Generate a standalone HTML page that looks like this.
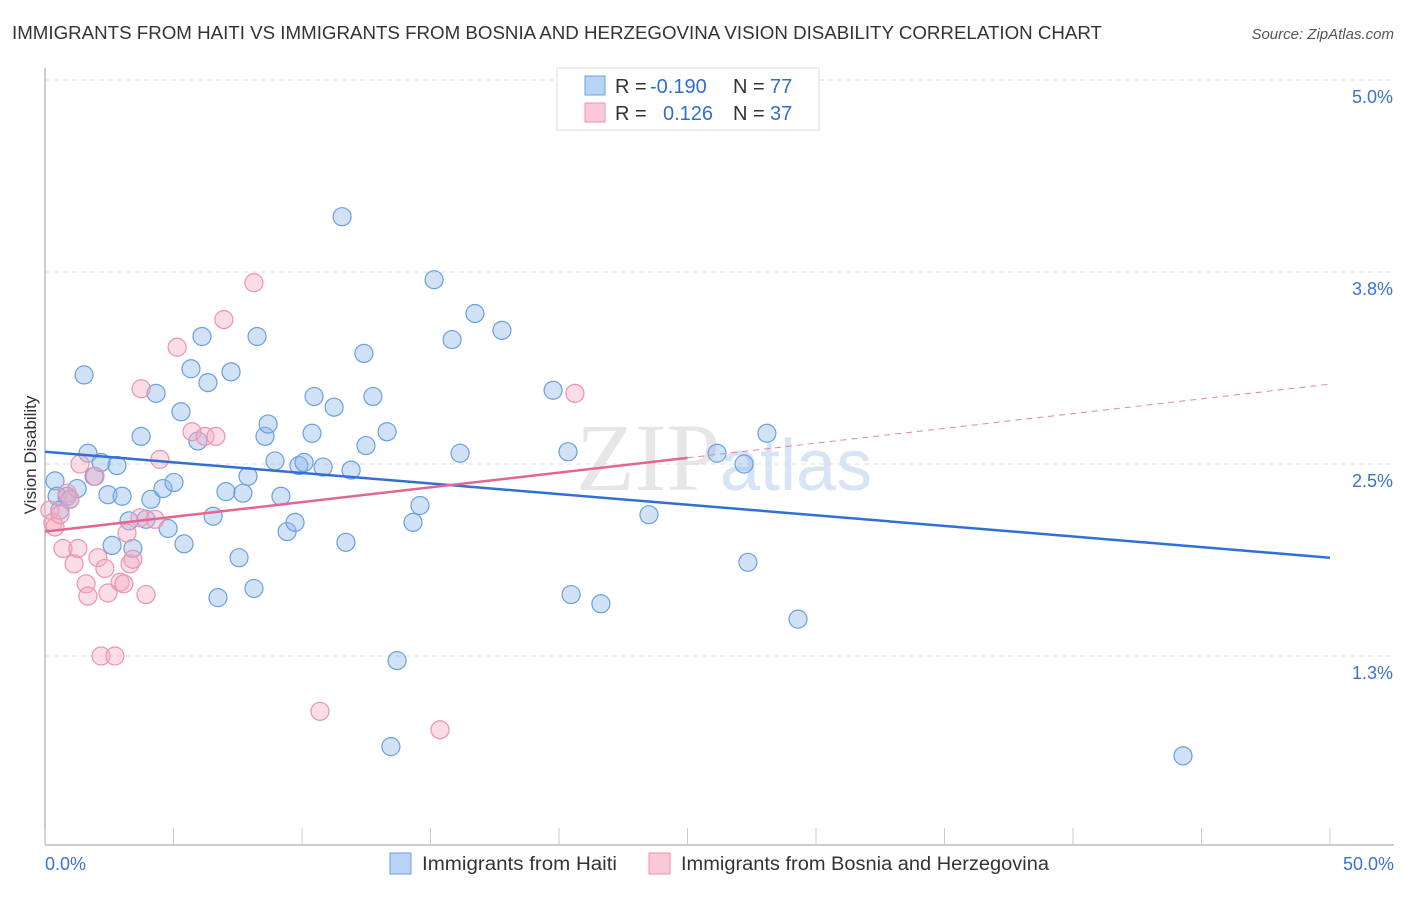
<!DOCTYPE html>
<html><head><meta charset="utf-8"><style>
body{margin:0;background:#fff;font-family:"Liberation Sans",sans-serif;}
</style></head><body>
<svg id="c" width="1406" height="892" xmlns="http://www.w3.org/2000/svg">
<text x="12" y="39" font-size="18" fill="#333" textLength="1090" lengthAdjust="spacingAndGlyphs">IMMIGRANTS FROM HAITI VS IMMIGRANTS FROM BOSNIA AND HERZEGOVINA VISION DISABILITY CORRELATION CHART</text>
<text x="1394" y="39" font-size="15" fill="#555" font-style="italic" text-anchor="end">Source: ZipAtlas.com</text>
<text x="36" y="455" font-size="17" fill="#333" transform="rotate(-90 36 455)" text-anchor="middle">Vision Disability</text>
<text x="720" y="490" font-size="96" fill="#e6e6e6" text-anchor="end" font-family="Liberation Serif,serif">ZIP</text>
<text x="720" y="490" font-size="72" fill="#d6e4f5">atlas</text>
<g id="grid"></g><g id="axes"></g><g id="pts"></g><g id="trend"></g>
<g>
<rect x="557" y="68" width="262" height="62" fill="#fff" stroke="#ddd"/>
<rect x="585" y="76" width="20" height="19" fill="#b9d3f5" stroke="#6a9fe0"/>
<rect x="585" y="103" width="20" height="19" fill="#fbc9d6" stroke="#e991ab"/>
<text x="615" y="93" font-size="20" fill="#333">R = <tspan x="650" fill="#2f6fd0">-0.190</tspan><tspan x="733">N = </tspan><tspan x="770" fill="#2f6fd0">77</tspan></text>
<text x="615" y="120" font-size="20" fill="#333">R = <tspan x="663" fill="#2f6fd0">0.126</tspan><tspan x="733">N = </tspan><tspan x="770" fill="#2f6fd0">37</tspan></text>
</g>
<g>
<rect x="390" y="853" width="21" height="21" fill="#b9d3f5" stroke="#6a9fe0"/>
<text x="422" y="870" font-size="19" fill="#333" textLength="195" lengthAdjust="spacingAndGlyphs">Immigrants from Haiti</text>
<rect x="649" y="853" width="21" height="21" fill="#fbc9d6" stroke="#e991ab"/>
<text x="681" y="870" font-size="19" fill="#333" textLength="368" lengthAdjust="spacingAndGlyphs">Immigrants from Bosnia and Herzegovina</text>
</g>
</svg>
<script>
const haitiX=[.39,.47,.58,.86,.97,1.25,1.52,1.67,1.91,2.18,2.45,2.61,2.80,3.00,3.27,3.42,3.74,3.93,4.12,4.32,4.59,4.79,5.02,5.29,5.41,5.68,5.95,6.11,6.34,6.54,6.73,7.04,7.24,7.55,7.70,7.90,8.13,8.25,8.56,8.68,8.95,9.18,9.42,9.73,9.88,10.08,10.47,10.39,10.82,11.25,11.56,11.71,11.91,12.41,12.49,12.76,13.31,13.46,13.70,14.32,14.59,15.14,15.84,16.15,16.73,17.78,19.77,20.35,20.47,21.63,23.50,26.15,27.20,27.35,28.09,29.30,44.28];
const haitiY=[2.39,2.29,2.20,2.29,2.27,2.34,3.08,2.57,2.42,2.51,2.30,1.97,2.49,2.29,2.13,1.95,2.68,2.14,2.27,2.96,2.34,2.08,2.38,2.84,1.98,3.12,2.65,3.33,3.03,2.16,1.63,2.32,3.10,1.89,2.31,2.42,1.69,3.33,2.68,2.76,2.52,2.29,2.06,2.12,2.49,2.51,2.94,2.70,2.48,2.87,4.11,1.99,2.46,3.22,2.62,2.94,2.71,0.66,1.22,2.12,2.23,3.70,3.31,2.57,3.48,3.37,2.98,2.58,1.65,1.59,2.17,2.57,2.50,1.86,2.70,1.49,0.60];
const bosniaX=[.19,.31,.39,.58,.70,.86,.97,1.13,1.28,1.36,1.60,1.67,1.95,2.06,2.18,2.33,2.45,2.72,2.92,3.07,3.19,3.31,3.42,3.74,3.70,3.93,4.28,4.47,5.14,5.72,6.23,6.65,6.96,8.13,10.70,15.37,20.62];
const bosniaY=[2.20,2.12,2.09,2.17,1.95,2.31,2.27,1.85,1.95,2.50,1.72,1.64,2.42,1.89,1.25,1.82,1.66,1.25,1.73,1.72,2.05,1.85,1.88,2.99,2.15,1.65,2.14,2.53,3.26,2.71,2.68,2.68,3.44,3.68,0.89,0.77,2.96];
const yTicks=[5.0,3.75,2.5,1.25];
const yTickLabels=["5.0%","3.8%","2.5%","1.3%"];
const haitiTrend=[2.58,1.89];
const bosniaTrend=[2.06,3.02];
const bosniaSolidEnd=25;
const X=v=>45+v/50*1285, Y=v=>80+(5-v)*153.6;
const NS="http://www.w3.org/2000/svg";
function mk(t,a,p){const e=document.createElementNS(NS,t);for(const k in a)e.setAttribute(k,a[k]);p.appendChild(e);return e;}
const grid=document.getElementById('grid'),axes=document.getElementById('axes'),pts=document.getElementById('pts'),tr=document.getElementById('trend');
yTicks.forEach((v,i)=>{
 const l=mk('line',{x1:45,x2:1394,y1:Y(v),y2:Y(v),stroke:'#ddd','stroke-dasharray':'5,4'},grid);
 
 
 const t=mk('text',{x:1393,y:Y(v)+23,'font-size':18,fill:'#3a72cc','text-anchor':'end'},grid);
 t.textContent=yTickLabels[i];
 
 
});
const ax=mk('line',{x1:45,x2:45,y1:68,y2:845,stroke:'#bbb','stroke-width':1.5},axes);


const bx=mk('line',{x1:45,x2:1394,y1:845,y2:845,stroke:'#bbb','stroke-width':1.5},axes);


for(let i=0;i<=10;i++){const t=mk('line',{x1:X(i*5),x2:X(i*5),y1:828,y2:845,stroke:'#ccc'},axes);
 
 }
const x0=mk('text',{x:45,y:870,'font-size':18,fill:'#3a72cc'},axes);x0.textContent='0.0%';


const x1=mk('text',{x:1394,y:870,'font-size':18,fill:'#3a72cc','text-anchor':'end'},axes);x1.textContent='50.0%';


haitiX.forEach((v,i)=>{const c=mk('circle',{cx:X(v),cy:Y(haitiY[i]),r:9,fill:'rgba(140,182,236,0.4)',stroke:'#6a9fe0','stroke-width':1.2},pts);
 
 });
bosniaX.forEach((v,i)=>{const c=mk('circle',{cx:X(v),cy:Y(bosniaY[i]),r:9,fill:'rgba(246,170,192,0.4)',stroke:'#eb93ad','stroke-width':1.2},pts);
 
 });
const hl=mk('line',{x1:X(0),y1:Y(haitiTrend[0]),x2:X(50),y2:Y(haitiTrend[1]),stroke:'#2f6fd6','stroke-width':2.5},tr);


const bm=bosniaTrend[0]+(bosniaTrend[1]-bosniaTrend[0])*bosniaSolidEnd/50;
const bl=mk('line',{x1:X(0),y1:Y(bosniaTrend[0]),x2:X(bosniaSolidEnd),y2:Y(bm),stroke:'#e4668f','stroke-width':2.5},tr);


const bd=mk('line',{x1:X(bosniaSolidEnd),y1:Y(bm),x2:X(50),y2:Y(bosniaTrend[1]),stroke:'#e4849f','stroke-width':1,'stroke-dasharray':'6,5'},tr);


</script>
</body></html>
